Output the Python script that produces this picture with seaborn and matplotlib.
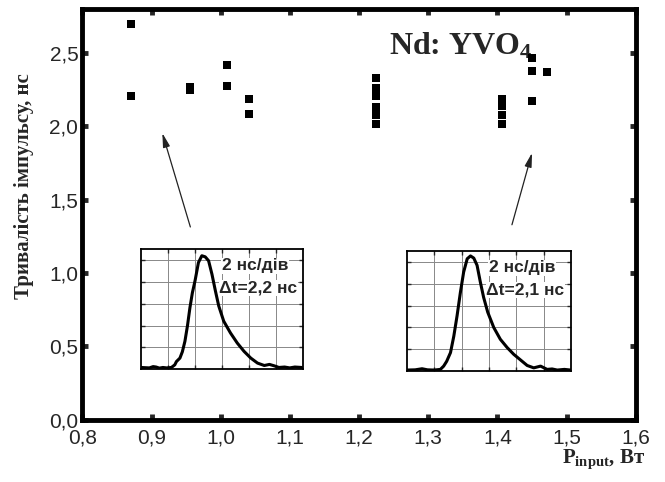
import numpy as np
import matplotlib
matplotlib.use("Agg")
import matplotlib.pyplot as plt
import seaborn as sns
import pandas as pd

# main data: input power (W) vs pulse duration (ns)
power = [0.870, 0.870, 0.956, 0.956, 1.009, 1.009, 1.041, 1.041,
         1.225, 1.225, 1.225, 1.225, 1.225, 1.225,
         1.406, 1.406, 1.406, 1.406,
         1.450, 1.450, 1.450, 1.471]
duration = [2.70, 2.21, 2.25, 2.27, 2.42, 2.275, 2.19, 2.085,
            2.33, 2.26, 2.21, 2.13, 2.08, 2.02,
            2.19, 2.14, 2.08, 2.02,
            2.466, 2.377, 2.173, 2.37]

x_ticks = [0.8, 0.9, 1.0, 1.1, 1.2, 1.3, 1.4, 1.5, 1.6]
x_tick_labels = ["0,8", "0,9", "1,0", "1,1", "1,2", "1,3", "1,4", "1,5", "1,6"]
y_ticks = [0.0, 0.5, 1.0, 1.5, 2.0, 2.5]
y_tick_labels = ["0,0", "0,5", "1,0", "1,5", "2,0", "2,5"]

# oscilloscope traces in the insets (divisions)
pulse1_t = [0.0, 0.31, 0.45, 0.56, 0.68, 0.81, 0.95, 1.125, 1.25, 1.31, 1.44, 1.53,
            1.625, 1.72, 1.81, 1.9, 2.0, 2.125, 2.25, 2.375, 2.5, 2.625, 2.75,
            2.875, 3.06, 3.31, 3.56, 3.81, 4.06, 4.31, 4.56, 4.75, 4.94, 5.1,
            5.31, 5.5, 5.69, 5.94]
pulse1_v = [0.08, 0.06, 0.12, 0.10, 0.05, 0.08, 0.06, 0.08, 0.20, 0.35, 0.51, 0.80,
            1.28, 2.00, 2.82, 3.50, 4.06, 4.89, 5.20, 5.15, 4.97, 4.35, 3.60,
            2.90, 2.20, 1.66, 1.20, 0.82, 0.51, 0.28, 0.17, 0.22, 0.15, 0.08,
            0.10, 0.06, 0.10, 0.08]
pulse2_t = [0.0, 0.3, 0.55, 0.75, 1.0, 1.22, 1.34, 1.45, 1.59, 1.71, 1.83, 1.95,
            2.07, 2.2, 2.32, 2.44, 2.56, 2.68, 2.8, 2.95, 3.17, 3.41, 3.66,
            3.9, 4.15, 4.39, 4.63, 4.88, 5.12, 5.3, 5.49, 5.75, 5.98]
pulse2_v = [0.05, 0.06, 0.11, 0.06, 0.05, 0.08, 0.23, 0.45, 0.85, 1.60, 2.54, 3.60,
            4.54, 5.15, 5.28, 5.18, 4.85, 4.08, 3.38, 2.70, 2.00, 1.46, 1.08,
            0.77, 0.51, 0.26, 0.15, 0.23, 0.08, 0.10, 0.05, 0.08, 0.05]

sns.set_style("ticks")
plt.rcParams["font.family"] = ["Liberation Sans", "DejaVu Sans"]
plt.rcParams["mathtext.fontset"] = "custom"
plt.rcParams["mathtext.rm"] = "Liberation Serif:bold"
plt.rcParams["mathtext.bf"] = "Liberation Serif:bold"
plt.rcParams["mathtext.it"] = "Liberation Serif:bold:italic"

fig = plt.figure(figsize=(6.65, 4.82), dpi=100)
ax = fig.add_axes([0.124, 0.129, 0.832, 0.852])

df = pd.DataFrame({"power": power, "duration": duration})
sns.scatterplot(data=df, x="power", y="duration", marker="s", s=30,
                color="black", linewidth=0, ax=ax, zorder=3)

ax.set_xlim(0.8, 1.6)
ax.set_ylim(0, 2.8)
ax.set_xticks(x_ticks)
ax.set_xticklabels(x_tick_labels)
ax.set_yticks(y_ticks)
ax.set_yticklabels(y_tick_labels)
ax.tick_params(direction="in", length=4, width=3.5, top=True, right=True,
               labelsize=15)
ax.tick_params(axis="x", pad=6)
ax.tick_params(axis="y", pad=3)
for sp in ax.spines.values():
    sp.set_linewidth(3.5)
    sp.set_color("black")

ax.set_xlabel("")
ax.set_ylabel("Тривалість імпульсу, нс", family="Liberation Serif",
              fontweight="bold", fontsize=15)
ax.yaxis.set_label_coords(-0.088, 0.57)

fig.text(0.908, 0.039, r"$\mathbf{P}_{\mathbf{input}}$, Вт", family="Liberation Serif",
         fontweight="bold", fontsize=15, ha="center", va="baseline")

ax.text(1.243, 2.49, "Nd: YVO$_4$", family="Liberation Serif", fontweight="bold",
        fontsize=23, va="baseline", ha="left", zorder=2)

arrow = dict(arrowstyle="-|>,head_length=0.6,head_width=0.15", lw=0.9,
             color="#222222", mutation_scale=14, shrinkA=0, shrinkB=0)
ax.annotate("", xy=(0.9155, 1.955), xytext=(0.956, 1.315), arrowprops=arrow)
ax.annotate("", xy=(1.45, 1.82), xytext=(1.421, 1.33), arrowprops=arrow)


def draw_inset(rect, t, v, label):
    ins = fig.add_axes(rect)
    sns.lineplot(x=t, y=v, ax=ins, color="black", lw=2.2, sort=False)
    ins.set_xlim(0, 6)
    ins.set_ylim(0, 5.5)
    ins.set_xticks([1, 2, 3, 4, 5])
    ins.set_yticks([1, 2, 3, 4, 5])
    ins.set_xticklabels([])
    ins.set_yticklabels([])
    ins.grid(True, color="#888888", lw=0.7)
    ins.tick_params(direction="in", length=3, width=1, top=True, right=True)
    for sp in ins.spines.values():
        sp.set_linewidth(1.3)
        sp.set_color("black")
    ins.set_facecolor("white")
    bg = dict(facecolor="white", edgecolor="none", pad=0.5)
    ins.text(2.98, 4.74, "2 нс/дів", fontsize=12.5, fontweight="bold",
             va="center", ha="left", bbox=bg)
    ins.text(2.9, 3.72, label, fontsize=12.5, fontweight="bold",
             va="center", ha="left", bbox=bg)


draw_inset([0.212, 0.234, 0.244, 0.249], pulse1_t, pulse1_v, "Δt=2,2 нс")
draw_inset([0.612, 0.230, 0.247, 0.249], pulse2_t, pulse2_v, "Δt=2,1 нс")

fig.savefig("out.png", dpi=100)
